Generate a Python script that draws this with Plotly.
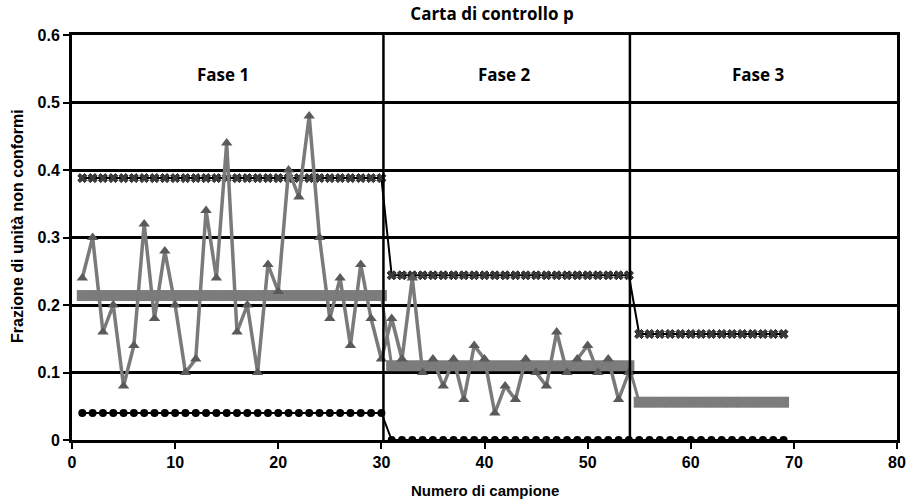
import plotly.graph_objects as go

# ---- data ----
phase1_samples = list(range(1, 31))
phase1_p = [0.24, 0.30, 0.16, 0.20, 0.08, 0.14, 0.32, 0.18, 0.28, 0.20,
            0.10, 0.12, 0.34, 0.24, 0.44, 0.16, 0.20, 0.10, 0.26, 0.22,
            0.40, 0.36, 0.48, 0.30, 0.18, 0.24, 0.14, 0.26, 0.18, 0.12]
phase2_samples = list(range(31, 55))
phase2_p = [0.18, 0.12, 0.24, 0.10, 0.12, 0.08, 0.12, 0.06, 0.14, 0.12,
            0.04, 0.08, 0.06, 0.12, 0.10, 0.08, 0.16, 0.10, 0.12, 0.14,
            0.10, 0.12, 0.06, 0.10]
phase3_samples = list(range(55, 70))

phase_names = ["Fase 1", "Fase 2", "Fase 3"]
phase_center = [0.214, 0.11, 0.056]
phase_ucl = [0.388, 0.244, 0.157]
phase_lcl = [0.04, 0.0, 0.0]
phase_boundaries = [30.2, 54.1]
phase_label_x = [14.6, 41.9, 66.6]
phase_label_y = 0.541

yticks = [0, 0.1, 0.2, 0.3, 0.4, 0.5, 0.6]
yticklabels = ["0", "0.1", "0.2", "0.3", "0.4", "0.5", "0.6"]
xticks = [0, 10, 20, 30, 40, 50, 60, 70, 80]

# ---- build limit series ----
phase_samples = [phase1_samples, phase2_samples, phase3_samples]
lim_x, cl_y, ucl_y, lcl_y = [], [], [], []
for s, c, u, l in zip(phase_samples, phase_center, phase_ucl, phase_lcl):
    lim_x += s
    cl_y += [c] * len(s)
    ucl_y += [u] * len(s)
    lcl_y += [l] * len(s)

data_x = phase1_samples + phase2_samples
data_y = phase1_p + phase2_p

fig = go.Figure()

fig.add_trace(go.Scatter(
    x=lim_x, y=lcl_y, mode="lines+markers",
    line=dict(color="black", width=2),
    marker=dict(symbol="circle", size=8, color="black"),
    showlegend=False))

fig.add_trace(go.Scatter(
    x=lim_x, y=ucl_y, mode="lines+markers",
    line=dict(color="black", width=2),
    marker=dict(symbol="x", size=8, color="#3a3a3a",
                line=dict(color="#222222", width=1)),
    showlegend=False))

fig.add_trace(go.Scatter(
    x=lim_x, y=cl_y, mode="lines+markers",
    line=dict(color="#7c7c7c", width=3),
    marker=dict(symbol="square", size=11, color="#7c7c7c"),
    showlegend=False))

fig.add_trace(go.Scatter(
    x=data_x, y=data_y, mode="lines+markers",
    line=dict(color="#7a7a7a", width=3.5),
    marker=dict(symbol="triangle-up", size=10, color="#5a5a5a"),
    showlegend=False))

# phase boundaries
for b in phase_boundaries:
    fig.add_shape(type="line", xref="x", yref="y", x0=b, x1=b, y0=0, y1=0.6,
                  line=dict(color="black", width=2.5), layer="above")

for name, lx in zip(phase_names, phase_label_x):
    fig.add_annotation(x=lx, y=phase_label_y, xref="x", yref="y", text=name,
                       showarrow=False,
                       font=dict(family="Open Sans", size=17, color="black",
                                 weight="bold"))

fig.add_annotation(x=0, y=(440 - 226) / 405, xref="paper", yref="paper",
                   text="Frazione di unità non conformi", textangle=-90,
                   showarrow=False, xanchor="center", yanchor="middle",
                   xshift=-55,
                   font=dict(family="Liberation Sans", size=16, color="black",
                             weight="bold"))

fig.add_annotation(x=0.5, y=(440 - 490) / 405, xref="paper", yref="paper",
                   text="Numero di campione", showarrow=False,
                   xanchor="center", yanchor="middle",
                   font=dict(family="Liberation Sans", size=15, color="black",
                             weight="bold"))

fig.update_layout(
    width=909, height=501,
    margin=dict(l=72, r=12, t=35, b=61),
    plot_bgcolor="white", paper_bgcolor="white",
    title=dict(text="Carta di controllo p", x=492 / 909, xanchor="center",
               y=1 - 14 / 501, yanchor="middle",
               font=dict(family="Open Sans", size=17, color="black",
                         weight="bold")),
    xaxis=dict(range=[0, 80], tickvals=xticks, showgrid=False, zeroline=False,
               automargin=False,
               showline=True, linecolor="black", linewidth=3, mirror=True,
               ticks="outside", ticklen=6, tickwidth=2, tickcolor="black",
               tickfont=dict(family="Liberation Sans", size=16, color="black",
                             weight="bold")),
    yaxis=dict(range=[0, 0.6], tickvals=yticks, ticktext=yticklabels,
               automargin=False,
               showgrid=True, gridcolor="black", gridwidth=3, zeroline=False,
               showline=True, linecolor="black", linewidth=3, mirror=True,
               ticks="outside", ticklen=6, tickwidth=2, tickcolor="black",
               tickfont=dict(family="Liberation Sans", size=16, color="black",
                             weight="bold")),
)

fig.write_html("out.html")
